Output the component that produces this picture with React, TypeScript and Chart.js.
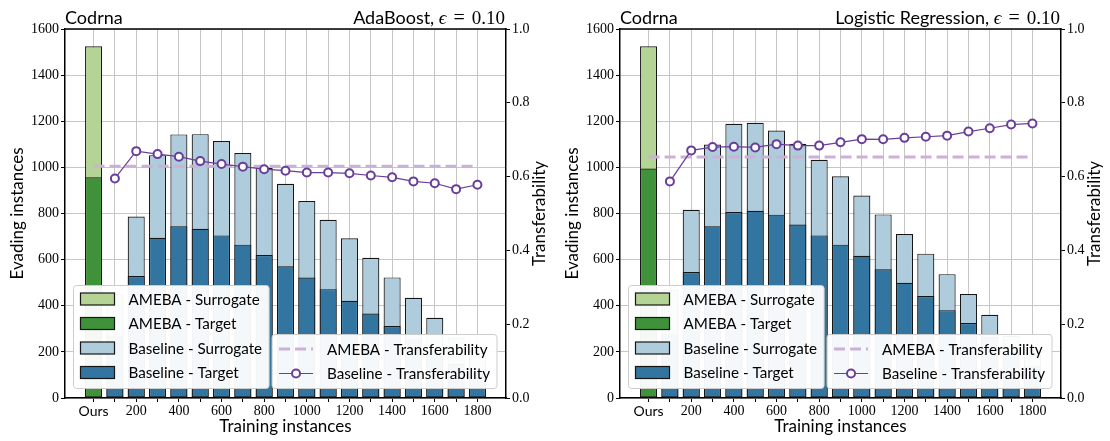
import React, { useEffect, useRef } from "react";
import { Chart, registerables } from "chart.js";

Chart.register(...registerables);

// ---------------- data ----------------
const baselineSizes = ["100", "200", "300", "400", "500", "600", "700", "800", "900", "1000", "1100", "1200", "1300", "1400", "1500", "1600", "1700", "1800"];
const categories = ["Ours", ...baselineSizes];
const tickLabels = ["Ours", "", "200", "", "400", "", "600", "", "800", "", "1000", "", "1200", "", "1400", "", "1600", "", "1800"];
const leftTicks = [0, 200, 400, 600, 800, 1000, 1200, 1400, 1600];
const rightTicks = [0.0, 0.2, 0.4, 0.6, 0.8, 1.0];

// AdaBoost
const adaAmebaSurrogate = [1525];
const adaAmebaTarget = [957];
const adaBaselineSurrogate = [450, 787, 1053, 1143, 1144, 1114, 1062, 997, 929, 854, 773, 693, 608, 523, 435, 348, 262, 185];
const adaBaselineTarget = [268, 529, 695, 745, 734, 705, 665, 620, 571, 522, 472, 422, 366, 312, 255, 203, 148, 107];
const adaAmebaTransfer = [0.628];
const adaBaselineTransfer = [0.595, 0.669, 0.661, 0.654, 0.642, 0.634, 0.627, 0.620, 0.616, 0.611, 0.611, 0.609, 0.603, 0.598, 0.587, 0.582, 0.566, 0.578];

// Logistic Regression
const lrAmebaSurrogate = [1525];
const lrAmebaTarget = [995];
const lrBaselineSurrogate = [470, 816, 1099, 1189, 1193, 1160, 1102, 1033, 961, 878, 796, 711, 626, 537, 451, 361, 270, 185];
const lrBaselineTarget = [276, 546, 745, 806, 812, 795, 752, 705, 665, 617, 558, 500, 442, 381, 325, 264, 200, 138];
const lrAmebaTransfer = [0.653];
const lrBaselineTransfer = [0.587, 0.671, 0.680, 0.681, 0.679, 0.688, 0.684, 0.684, 0.693, 0.7015, 0.701, 0.705, 0.708, 0.711, 0.722, 0.731, 0.741, 0.744];

const datasetName = "Codrna";
const epsilonText = "0.10";
const xTitle = "Training instances";
const yTitle = "Evading instances";
const y2Title = "Transferability";
const barLabels = ["AMEBA - Surrogate", "AMEBA - Target", "Baseline - Surrogate", "Baseline - Target"];
const lineLabels = ["AMEBA - Transferability", "Baseline - Transferability"];

// ---------------- style ----------------
const SANS = "Lato, 'DejaVu Sans', sans-serif";
const SERIF = "'Liberation Serif', 'DejaVu Serif', serif";
const C_AMEBA_SUR = "#b3d495";
const C_AMEBA_TGT = "#40923a";
const C_BASE_SUR = "#aeccdb";
const C_BASE_TGT = "#3275a1";
const C_LINE = "#6a3d9a";
const C_DASH = "#cab2d6";
const EDGE = "#161616";
const GRID = "#c6c6c6";

const W = 555;
const H = 441;

const decorPlugin = {
  id: "decor",
  afterDraw(chart: any, _args: any, opts: any) {
    const { ctx, chartArea: a } = chart;
    ctx.save();
    // top spine
    ctx.strokeStyle = "#000";
    ctx.lineWidth = 1.5;
    ctx.beginPath();
    ctx.moveTo(a.left - 0.75, a.top);
    ctx.lineTo(a.right + 0.75, a.top);
    ctx.stroke();

    ctx.fillStyle = "#000";
    // left title
    ctx.textBaseline = "alphabetic";
    ctx.textAlign = "left";
    ctx.font = `18px ${SANS}`;
    ctx.fillText(opts.leftTitle, a.left, 24);
    // right title with math part
    const segs = [
      { text: opts.rightTitle + ", ", font: `18px ${SANS}`, gap: 0 },
      { text: "\u03F5", font: `italic 19px ${SERIF}`, gap: 7 },
      { text: "=", font: `20px ${SERIF}`, gap: 7 },
      { text: opts.eps, font: `19px ${SERIF}`, gap: 0 },
    ];
    let total = 0;
    segs.forEach((s) => {
      ctx.font = s.font;
      total += ctx.measureText(s.text).width + s.gap;
    });
    let x = a.right - 1 - total;
    segs.forEach((s) => {
      ctx.font = s.font;
      ctx.fillText(s.text, x, 24);
      x += ctx.measureText(s.text).width + s.gap;
    });

    // axis titles
    ctx.font = `17px ${SANS}`;
    ctx.textAlign = "center";
    ctx.textBaseline = "middle";
    ctx.fillText(opts.xTitle, (a.left + a.right) / 2, 427);
    const cy = (a.top + a.bottom) / 2;
    ctx.save();
    ctx.translate(18, cy);
    ctx.rotate(-Math.PI / 2);
    ctx.fillText(opts.yTitle, 0, 0);
    ctx.restore();
    ctx.save();
    ctx.translate(a.right + 34, cy);
    ctx.rotate(-Math.PI / 2);
    ctx.fillText(opts.y2Title, 0, 0);
    ctx.restore();

    // legends
    const ds = chart.data.datasets;
    const find = (label: string) => ds.find((d: any) => d.label === label);
    const rowH = 24.5;
    const legendFont = `15.2px ${SANS}`;
    ctx.font = legendFont;
    const drawBox = (left: number, top: number, w: number, h: number) => {
      const r = 3;
      ctx.beginPath();
      ctx.moveTo(left + r, top);
      ctx.lineTo(left + w - r, top);
      ctx.quadraticCurveTo(left + w, top, left + w, top + r);
      ctx.lineTo(left + w, top + h - r);
      ctx.quadraticCurveTo(left + w, top + h, left + w - r, top + h);
      ctx.lineTo(left + r, top + h);
      ctx.quadraticCurveTo(left, top + h, left, top + h - r);
      ctx.lineTo(left, top + r);
      ctx.quadraticCurveTo(left, top, left + r, top);
      ctx.closePath();
      ctx.fillStyle = "rgba(255,255,255,0.95)";
      ctx.fill();
      ctx.strokeStyle = "#cccccc";
      ctx.lineWidth = 1;
      ctx.stroke();
    };

    // bar legend (bottom-left)
    {
      const labels: string[] = opts.barLegend;
      let maxW = 0;
      labels.forEach((l) => (maxW = Math.max(maxW, ctx.measureText(l).width)));
      const w = 55 + maxW + 7;
      const h = labels.length * rowH + 5;
      const left = a.left + 8.5;
      const top = a.bottom - 9.5 - h;
      drawBox(left, top, w, h);
      labels.forEach((l, i) => {
        const d = find(l);
        const yy = top + 13.5 + i * rowH;
        ctx.fillStyle = d.backgroundColor;
        ctx.fillRect(left + 7, yy - 6, 34, 12);
        ctx.strokeStyle = EDGE;
        ctx.lineWidth = 1.2;
        ctx.strokeRect(left + 7, yy - 6, 34, 12);
        ctx.fillStyle = "#000";
        ctx.font = legendFont;
        ctx.textAlign = "left";
        ctx.textBaseline = "middle";
        ctx.fillText(l, left + 55, yy + 1);
      });
    }
    // line legend (bottom-right)
    {
      const labels: string[] = opts.lineLegend;
      ctx.font = legendFont;
      let maxW = 0;
      labels.forEach((l) => (maxW = Math.max(maxW, ctx.measureText(l).width)));
      const w = 55 + maxW + 7;
      const h = labels.length * rowH + 5;
      const left = a.right - 9 - w;
      const top = a.bottom - 9.5 - h;
      drawBox(left, top, w, h);
      labels.forEach((l, i) => {
        const d = find(l);
        const yy = top + 14.5 + i * rowH;
        ctx.save();
        ctx.strokeStyle = d.borderColor;
        ctx.lineWidth = d.borderWidth;
        ctx.setLineDash(d.borderDash || []);
        ctx.beginPath();
        ctx.moveTo(left + 7, yy);
        ctx.lineTo(left + 41, yy);
        ctx.stroke();
        ctx.restore();
        if (d.pointRadius > 0) {
          ctx.beginPath();
          ctx.arc(left + 24, yy, d.pointRadius, 0, Math.PI * 2);
          ctx.fillStyle = d.pointBackgroundColor;
          ctx.fill();
          ctx.strokeStyle = d.pointBorderColor;
          ctx.lineWidth = d.pointBorderWidth;
          ctx.stroke();
        }
        ctx.fillStyle = "#000";
        ctx.font = legendFont;
        ctx.textAlign = "left";
        ctx.textBaseline = "middle";
        ctx.fillText(l, left + 55, yy + 1);
      });
    }
    ctx.restore();
  },
};

type PanelProps = {
  model: string;
  amebaSurrogate: number[];
  amebaTarget: number[];
  baselineSurrogate: number[];
  baselineTarget: number[];
  amebaTransfer: number[];
  baselineTransfer: number[];
};

function Panel(p: PanelProps) {
  const ref = useRef<HTMLCanvasElement>(null);
  useEffect(() => {
    const xOf = (label: string) => categories.indexOf(label);
    const oursX = xOf("Ours");
    const baseXY = (vals: number[]) => vals.map((v, i) => ({ x: xOf(baselineSizes[i]), y: v }));
    const barCommon = {
      type: "bar" as const,
      yAxisID: "y",
      borderColor: EDGE,
      borderWidth: 1.2,
      borderSkipped: false,
      categoryPercentage: 1,
      barPercentage: 0.8,
      grouped: false,
    };
    const lastX = xOf(baselineSizes[baselineSizes.length - 1]);
    const chart = new Chart(ref.current as HTMLCanvasElement, {
      type: "bar",
      data: {
        datasets: [
          {
            ...barCommon,
            label: barLabels[0],
            data: p.amebaSurrogate.map((v) => ({ x: oursX, y: v })),
            backgroundColor: C_AMEBA_SUR,
            order: 3,
          },
          {
            ...barCommon,
            label: barLabels[1],
            data: p.amebaTarget.map((v) => ({ x: oursX, y: v })),
            backgroundColor: C_AMEBA_TGT,
            order: 2,
          },
          {
            ...barCommon,
            label: barLabels[2],
            data: baseXY(p.baselineSurrogate),
            backgroundColor: C_BASE_SUR,
            order: 3,
          },
          {
            ...barCommon,
            label: barLabels[3],
            data: baseXY(p.baselineTarget),
            backgroundColor: C_BASE_TGT,
            order: 2,
          },
          {
            type: "line",
            label: lineLabels[0],
            yAxisID: "y2",
            data: [
              { x: oursX, y: p.amebaTransfer[0] },
              { x: lastX, y: p.amebaTransfer[0] },
            ],
            borderColor: C_DASH,
            borderWidth: 3,
            borderDash: [11, 5],
            pointRadius: 0,
            order: 1,
          } as any,
          {
            type: "line",
            label: lineLabels[1],
            yAxisID: "y2",
            data: baseXY(p.baselineTransfer),
            borderColor: C_LINE,
            borderWidth: 1.2,
            pointRadius: 4,
            pointBorderWidth: 2,
            pointBackgroundColor: "#ffffff",
            pointBorderColor: C_LINE,
            order: 0,
          } as any,
        ],
      },
      options: {
        animation: false,
        responsive: false,
        devicePixelRatio: 1,
        layout: { padding: { top: 29, left: 0, right: 0, bottom: 0 } },
        plugins: {
          legend: { display: false },
          tooltip: { enabled: false },
          title: { display: false },
          decor: {
            leftTitle: datasetName,
            rightTitle: p.model,
            eps: epsilonText,
            xTitle,
            yTitle,
            y2Title,
            barLegend: barLabels,
            lineLegend: lineLabels,
          },
        } as any,
        scales: {
          x: {
            type: "linear",
            offset: false,
            min: -1.34,
            max: 19.34,
            afterBuildTicks: (scale: any) => {
              scale.ticks = categories.map((_, i) => ({ value: i }));
            },
            afterFit: (scale: any) => {
              scale.height = 43;
            },
            grid: { offset: false, color: GRID, lineWidth: 1, tickColor: "#000", tickLength: 4, tickWidth: 1 },
            border: { color: "#000", width: 1.5 },
            ticks: {
              autoSkip: false,
              maxRotation: 0,
              padding: 1,
              color: "#000",
              callback: (v: any) => tickLabels[Math.round(Number(v))] ?? "",
              font: (c: any) =>
                c.index === 0 ? { family: SANS, size: 14 } : { family: SERIF, size: 14 },
            },
          },
          y: {
            type: "linear",
            position: "left",
            min: 0,
            max: 1600,
            afterBuildTicks: (scale: any) => {
              scale.ticks = leftTicks.map((v) => ({ value: v }));
            },
            afterFit: (scale: any) => {
              scale.width = 65;
            },
            grid: { color: GRID, lineWidth: 1, tickColor: "#000", tickLength: 4, tickWidth: 1 },
            border: { color: "#000", width: 1.5 },
            ticks: {
              padding: 2,
              color: "#000",
              font: { family: SERIF, size: 14 },
              callback: (v: any) => String(v),
            },
          },
          y2: {
            type: "linear",
            position: "right",
            min: 0,
            max: 1,
            afterBuildTicks: (scale: any) => {
              scale.ticks = rightTicks.map((v) => ({ value: v }));
            },
            afterFit: (scale: any) => {
              scale.width = W - 506;
            },
            grid: { drawOnChartArea: false, tickColor: "#000", tickLength: 4, tickWidth: 1 },
            border: { color: "#000", width: 1.5 },
            ticks: {
              padding: 2,
              color: "#000",
              font: { family: SERIF, size: 14 },
              callback: (v: any) => Number(v).toFixed(1),
            },
          },
        },
      } as any,
      plugins: [decorPlugin],
    });
    return () => chart.destroy();
  }, []);
  return <canvas ref={ref} width={W} height={H} style={{ width: W, height: H, display: "block" }} />;
}

export default function App() {
  return (
    <div
      style={{
        position: "fixed",
        left: 0,
        top: 0,
        width: 1110,
        height: 441,
        display: "flex",
        background: "#ffffff",
      }}
    >
      <Panel
        model="AdaBoost"
        amebaSurrogate={adaAmebaSurrogate}
        amebaTarget={adaAmebaTarget}
        baselineSurrogate={adaBaselineSurrogate}
        baselineTarget={adaBaselineTarget}
        amebaTransfer={adaAmebaTransfer}
        baselineTransfer={adaBaselineTransfer}
      />
      <Panel
        model="Logistic Regression"
        amebaSurrogate={lrAmebaSurrogate}
        amebaTarget={lrAmebaTarget}
        baselineSurrogate={lrBaselineSurrogate}
        baselineTarget={lrBaselineTarget}
        amebaTransfer={lrAmebaTransfer}
        baselineTransfer={lrBaselineTransfer}
      />
    </div>
  );
}
